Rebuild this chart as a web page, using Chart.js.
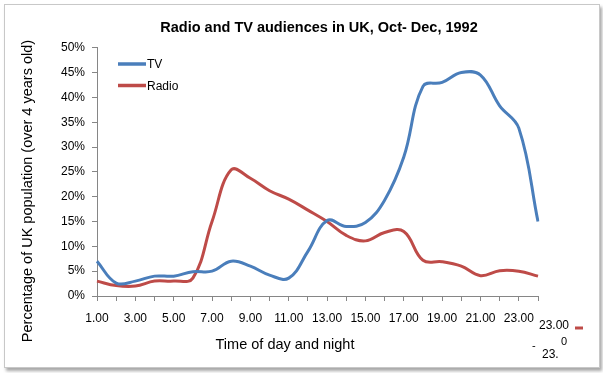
<!DOCTYPE html>
<html>
<head>
<meta charset="utf-8">
<script src="https://cdn.jsdelivr.net/npm/chart.js@4.4.0/dist/chart.umd.min.js"></script>
<style>
  html, body { margin: 0; padding: 0; background: #fff; }
  #frame {
    position: absolute; left: 4px; top: 4px; width: 594px; height: 362px;
    border: 1px solid #c8c8c8; box-shadow: 2px 3px 3px #a8a8a8; background: #fff;
  }
  #wrap { position: absolute; left: 0; top: 0; width: 603px; height: 373px; }
</style>
</head>
<body>
<div id="frame"></div>
<div id="wrap"><canvas id="chart" width="603" height="373"></canvas></div>
<script>
// hours 1..24, one point per hour
const hours = ['1.00', '2.00', '3.00', '4.00', '5.00', '6.00', '7.00', '8.00', '9.00', '10.00', '11.00', '12.00',
               '13.00', '14.00', '15.00', '16.00', '17.00', '18.00', '19.00', '20.00', '21.00', '22.00', '23.00', '24.00'];

// % of UK population (over 4 years old)
const tvValues    = [7, 2.6, 3, 4, 4, 4.9, 5, 7, 6, 4.2, 3.6, 9, 15.2, 14, 14.8, 19.3, 28, 42.2, 43, 45, 44.5, 38.3, 33.8, 15];
const radioValues = [3, 2.1, 2, 3, 3, 3.6, 15, 25.4, 23.7, 21.2, 19.5, 17.3, 15, 12.2, 11.1, 12.8, 13, 7.2, 6.9, 6, 4.1, 5.1, 5, 4];

const yTicks = [0, 5, 10, 15, 20, 25, 30, 35, 40, 45, 50];

const BLUE = '#4A7EBB';
const RED  = '#BE4B48';
const AXIS = '#868686';

const textPlugin = {
  id: 'texts',
  afterDraw(chart) {
    const ctx = chart.ctx;
    ctx.save();
    ctx.fillStyle = '#000';
    ctx.textBaseline = 'middle';

    // title
    ctx.font = 'bold 14.5px "Liberation Sans", Arial, sans-serif';
    ctx.textAlign = 'center';
    ctx.fillText('Radio and TV audiences in UK, Oct- Dec, 1992', 319, 28);

    // axis titles
    ctx.font = '14.5px "Liberation Sans", Arial, sans-serif';
    ctx.fillText('Time of day and night', 285, 345);
    ctx.save();
    ctx.translate(28, 191);
    ctx.rotate(-Math.PI / 2);
    ctx.fillText('Percentage of UK population (over 4 years old)', 0, 0);
    ctx.restore();

    // legend inside plot
    ctx.font = '12px "Liberation Sans", Arial, sans-serif';
    ctx.textAlign = 'left';
    chart.data.datasets.forEach((ds, i) => {
      const y = 64 + i * 21.5;
      ctx.strokeStyle = ds.borderColor;
      ctx.lineWidth = 3.5;
      ctx.beginPath();
      ctx.moveTo(118, y);
      ctx.lineTo(146, y);
      ctx.stroke();
      ctx.fillText(ds.label, 147, y + 1);
    });

    // stray label fragments at the bottom right
    ctx.font = '12px "Liberation Sans", Arial, sans-serif';
    ctx.fillText('23.00', 539, 326);
    ctx.fillText('23.', 542, 355);
    ctx.font = '11px "Liberation Sans", Arial, sans-serif';
    ctx.fillText('0', 561, 342);
    ctx.fillText('-', 532, 346);
    ctx.strokeStyle = RED;
    ctx.lineWidth = 3;
    ctx.beginPath();
    ctx.moveTo(575, 328);
    ctx.lineTo(583, 328);
    ctx.stroke();
    ctx.restore();
  }
};

new Chart(document.getElementById('chart'), {
  type: 'line',
  data: {
    labels: hours,
    datasets: [
      { label: 'TV', data: tvValues, borderColor: BLUE, backgroundColor: BLUE,
        borderWidth: 3, pointRadius: 0, tension: 0.4 },
      { label: 'Radio', data: radioValues, borderColor: RED, backgroundColor: RED,
        borderWidth: 3, pointRadius: 0, tension: 0.4 },
    ]
  },
  options: {
    responsive: false,
    animation: false,
    layout: { padding: { left: 0, right: 65, top: 47.7, bottom: 0 } },
    plugins: {
      legend: { display: false },
      title: { display: false },
      tooltip: { enabled: false },
    },
    scales: {
      x: {
        type: 'category',
        offset: false,
        grid: { drawOnChartArea: false, drawTicks: true, tickLength: 5, color: AXIS },
        border: { color: AXIS, width: 1 },
        ticks: {
          autoSkip: false, maxRotation: 0, minRotation: 0, padding: 10,
          color: '#000', font: { size: 12, family: '"Liberation Sans", Arial, sans-serif' },
          callback: (v, i) => (i % 2 === 0 ? hours[i] : ''),
        },
        afterFit: s => { s.height = 373 - 296; },
      },
      y: {
        min: 0, max: 50,
        afterBuildTicks: s => { s.ticks = yTicks.map(v => ({ value: v })); },
        grid: { drawOnChartArea: false, drawTicks: true, tickLength: 5, color: AXIS },
        border: { color: AXIS, width: 1 },
        ticks: {
          padding: 7, color: '#000',
          font: { size: 12, family: '"Liberation Sans", Arial, sans-serif' },
          callback: v => v + '%',
        },
        afterFit: s => { s.width = 97; },
      }
    }
  },
  plugins: [textPlugin]
});
</script>
</body>
</html>
